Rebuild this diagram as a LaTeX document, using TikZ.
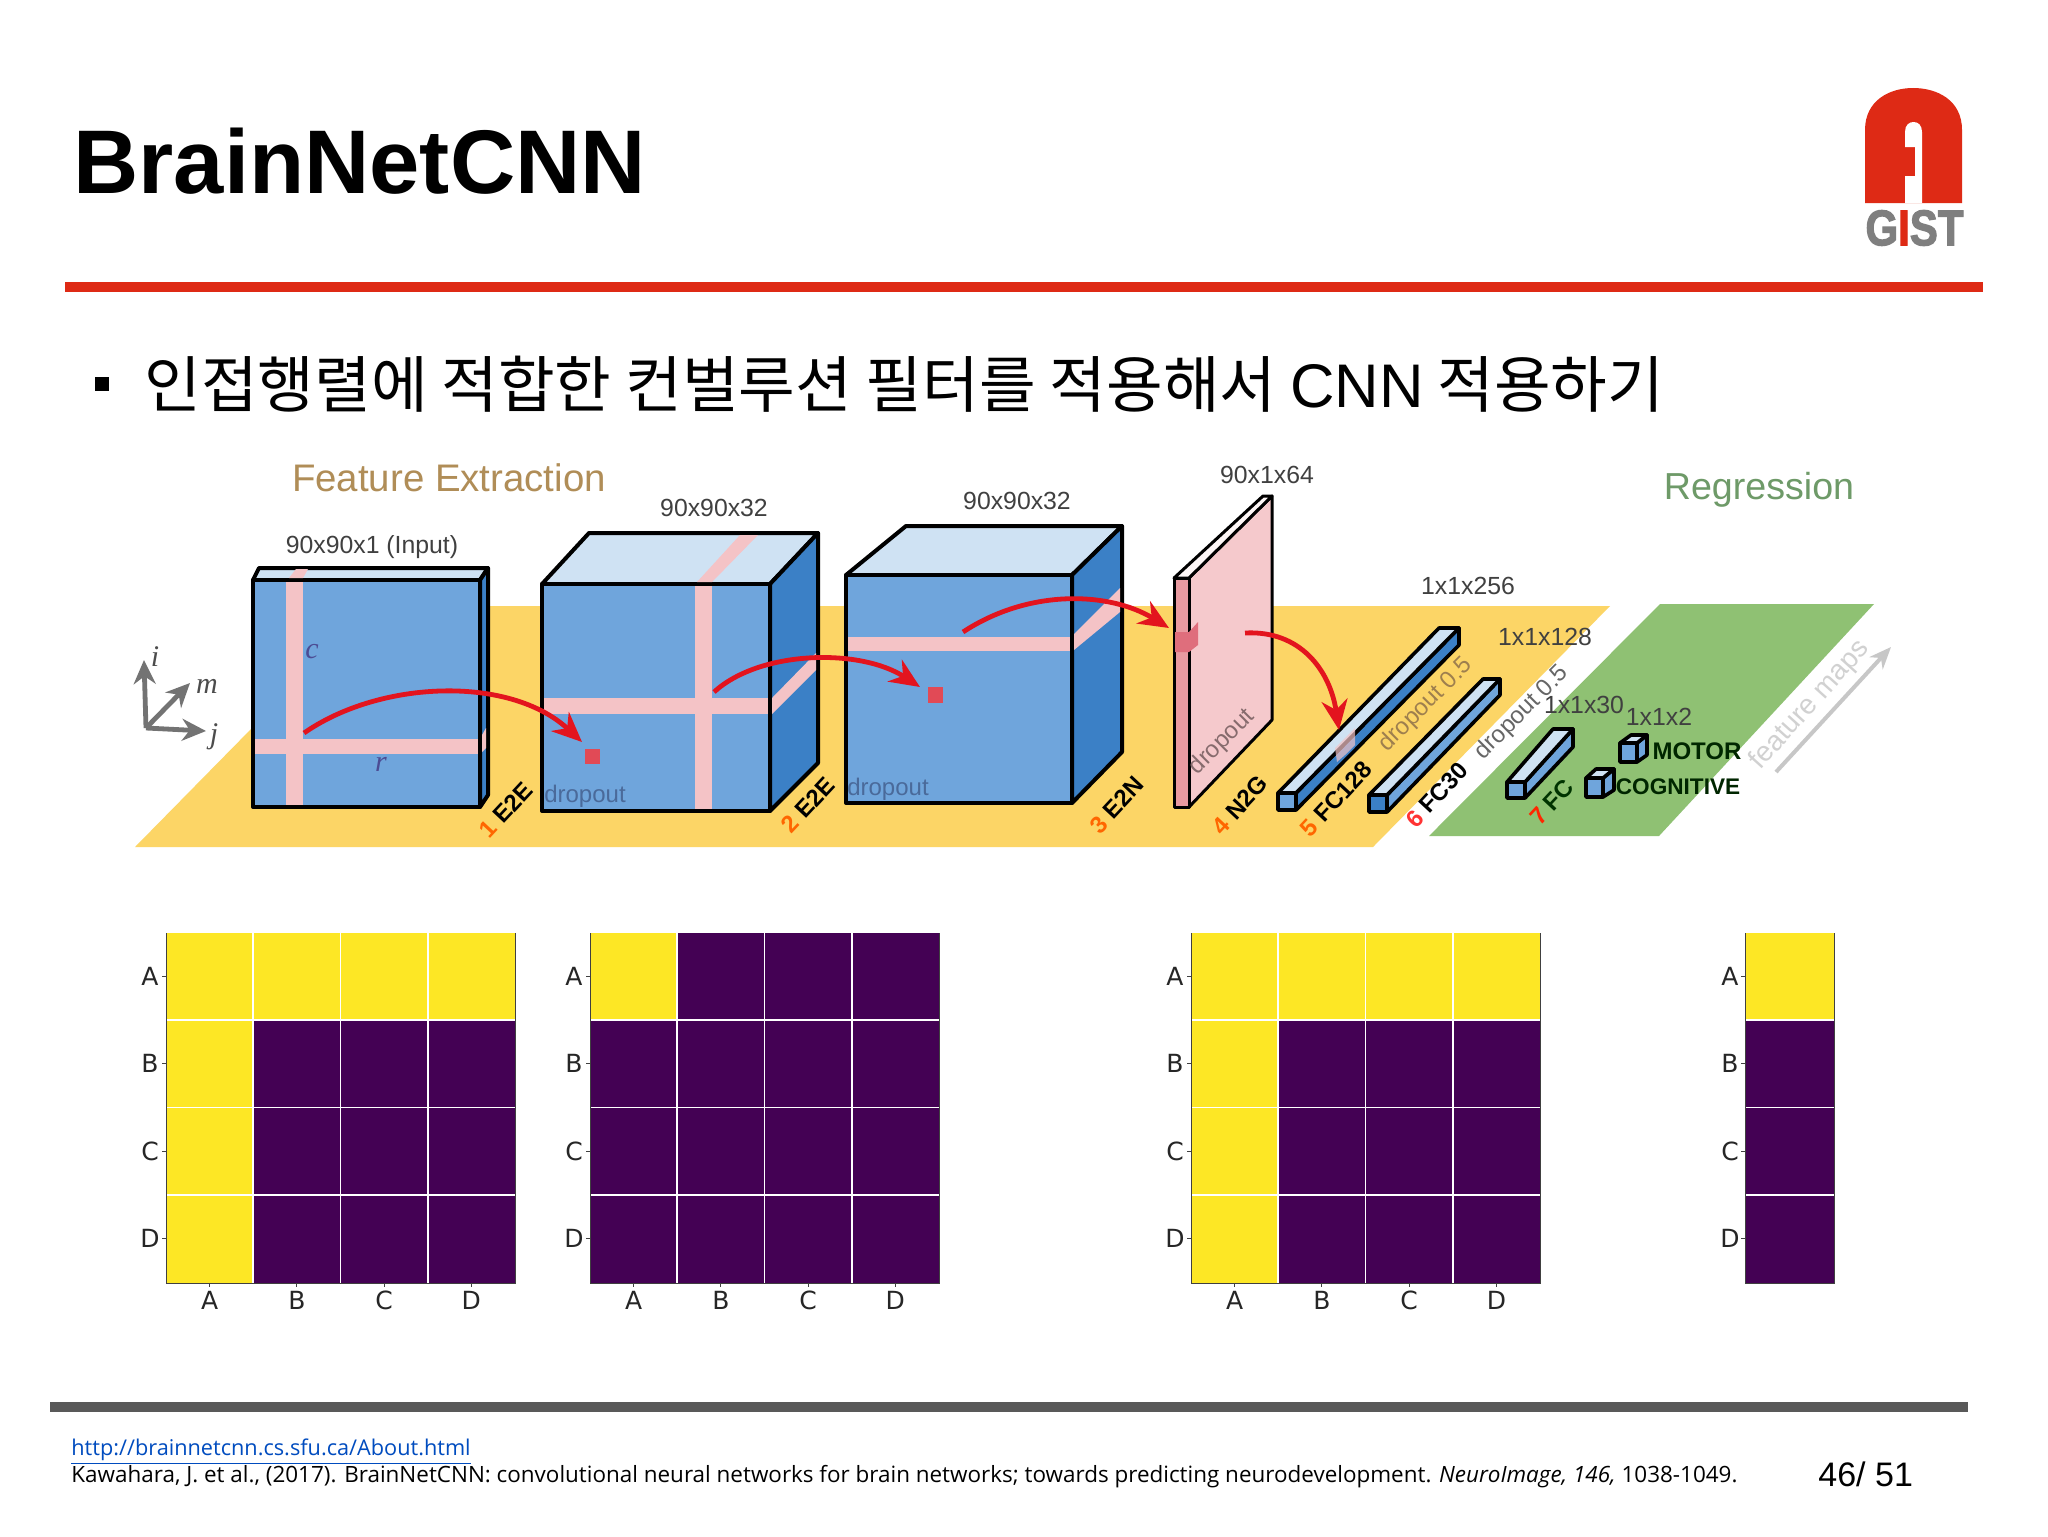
\documentclass[tikz,border=0pt]{standalone}
\usepackage{fontspec}
\setmainfont{Liberation Sans}
\newfontfamily\cjk{Noto Sans CJK KR}
\newfontfamily\notefont{Open Sans}
\newfontfamily\tickfont{DejaVu Sans}
\newfontfamily\axisfont{Liberation Serif}
\newfontfamily\gistfont[BoldFeatures={FakeBold=2.5}]{Liberation Sans}
\usetikzlibrary{arrows.meta,calc,positioning}
\definecolor{gistred}{HTML}{DE2A15}
\definecolor{gistgrey}{HTML}{7F7F7F}
\definecolor{barfront}{HTML}{6FA5DC}
\definecolor{barside}{HTML}{3B80C6}
\definecolor{bartop}{HTML}{CFE2F3}
\definecolor{stripe}{HTML}{F4C3C6}
\definecolor{platestrip}{HTML}{E89AA0}
\definecolor{platemark}{HTML}{DF6E7C}
\definecolor{plateyellow}{HTML}{FCD566}
\definecolor{plategreen}{HTML}{8FC173}
\definecolor{vyellow}{HTML}{FDE725}
\definecolor{vpurple}{HTML}{440154}
\definecolor{arrowred}{HTML}{E3141E}
\definecolor{droptext}{HTML}{4A6A9A}
\definecolor{extracttext}{HTML}{B08D57}
\definecolor{regresstext}{HTML}{6E9A68}
\tikzset{
  frontface/.style={fill=barfront,draw=black,line width=2pt,line join=round},
  sideface/.style={fill=barside,draw=black,line width=2pt,line join=round},
  topface/.style={fill=bartop,draw=black,line width=2pt,line join=round},
  dimlabel/.style={inner sep=0pt,text=black!75,font=\fontsize{12.4}{14}\selectfont},
  steplabel/.style={inner sep=0pt,rotate=47,font=\fontsize{12}{14}\selectfont\bfseries},
  droplabel/.style={inner sep=0pt,font=\fontsize{12}{14}\selectfont},
  axislabel/.style={inner sep=0pt,text=black!70,font=\fontsize{15}{16}\selectfont\axisfont\itshape},
  flowarrow/.style={arrowred,line width=2.4pt,-{Stealth[length=15pt,width=13pt]}},
  axisarrow/.style={black!55,line width=2.4pt,-{Stealth[length=12pt,width=11pt]}},
  ticklabel/.style={inner sep=0pt,text=black!85,font=\fontsize{12.5}{14}\selectfont\tickfont},
}
\begin{document}
\begin{tikzpicture}[x=0.5pt,y=-0.5pt]
  \useasboundingbox (0,0) rectangle (2048,1536);
  \fill[white] (0,0) rectangle (2048,1536);
  % header
  \node[anchor=base west,inner sep=0pt,font=\fontsize{45.2}{50}\selectfont\bfseries] (title) at (73,193) {BrainNetCNN};
  \fill[gistred] (65,282) rectangle (1983,292);
  \fill[gistred] (1865,203) -- (1865,130) .. controls (1865,100) and (1890,88) .. (1913,88)
    .. controls (1937,88) and (1962,100) .. (1962,130) -- (1962,203) -- cycle;
  \fill[white] (1905,203) -- (1905,176) -- (1915,176) -- (1915,147) -- (1905,147) -- (1905,132)
    .. controls (1905,125) and (1909,122) .. (1913.5,122)
    .. controls (1918,122) and (1922,125) .. (1922,132) -- (1922,203) -- cycle;
  \node[inner sep=0pt,text=gistgrey,font=\fontsize{25}{27}\selectfont\gistfont\bfseries] (gist) at (1914.5,228)
    {\scalebox{0.84}[1]{G\textcolor{gistred}{I}ST}};
  \fill[black] (95,377) rectangle (109,391);
  \node[anchor=west,inner sep=0pt,font=\fontsize{30.8}{36}\selectfont\cjk] (headline) at (144,384)
    {인접행렬에 적합한 컨벌루션 필터를 적용해서 {\rmfamily CNN} 적용하기};
  % planes
  \fill[plateyellow] (135,847) -- (372,606) -- (1610,606) -- (1373,847) -- cycle;
  \fill[plategreen] (1429,836) -- (1660,604) -- (1874,604) -- (1659,836) -- cycle;
  % axes
  \coordinate (origin) at (146,728);
  \coordinate (axisi) at (144,660);
  \coordinate (axism) at (190,683);
  \coordinate (axisj) at (206,731);
  \draw[axisarrow] (origin) -- (axisi);
  \draw[axisarrow] (origin) -- (axism);
  \draw[axisarrow] (origin) -- (axisj);
  \node[axislabel] (labeli) at (155,657) {i};
  \node[axislabel] (labelm) at (207,686) {m};
  \node[axislabel] (labelj) at (214,737) {j};
  % input
  \draw[topface] (253,580) -- (259,568) -- (488,568) -- (480,580) -- cycle;
  \draw[sideface] (480,580) -- (488,568) -- (488,795) -- (480,807) -- cycle;
  \draw[frontface] (253,580) rectangle (480,807);
  \fill[stripe] (286,582) rectangle (303,805);
  \fill[stripe] (255,739) rectangle (478,754);
  \fill[stripe] (289,578) -- (303,578) -- (308,569) -- (296,569) -- cycle;
  \fill[stripe] (482,735) -- (486,728) -- (486,748) -- (482,752) -- cycle;
  \node[axislabel,text=blue!40!black!70] (labelc) at (312,652) {c};
  \node[axislabel,text=blue!40!black!70] (labelr) at (381,764) {r};
  % second block
  \draw[topface] (542,584) -- (589,533) -- (818,533) -- (770,584) -- cycle;
  \draw[sideface] (770,584) -- (818,533) -- (818,763) -- (770,811) -- cycle;
  \draw[frontface] (542,584) rectangle (770,811);
  \fill[stripe] (695,586) rectangle (712,809);
  \fill[stripe] (544,698) rectangle (768,714);
  \fill[stripe] (697,582) -- (712,582) -- (758,535) -- (740,535) -- cycle;
  \fill[stripe] (772,698) -- (816,653) -- (816,670) -- (772,714) -- cycle;
  % third block
  \draw[topface] (846,575) -- (906,526) -- (1122,526) -- (1072,575) -- cycle;
  \draw[sideface] (1072,575) -- (1122,526) -- (1122,752) -- (1072,803) -- cycle;
  \draw[frontface] (846,575) rectangle (1072,803);
  \fill[stripe] (848,637) rectangle (1070,651);
  \fill[stripe] (1074,634) -- (1120,588) -- (1120,612) -- (1074,650) -- cycle;
  % plate
  \draw[black,line width=1.5pt,line join=round,fill=stripe!90!white] (1189,578) -- (1272,496) -- (1272,720) -- (1189,807) -- cycle;
  \draw[black,line width=1.5pt,line join=round,fill=white!85!stripe] (1174,578) -- (1263,496) -- (1272,496) -- (1189,578) -- cycle;
  \draw[black,line width=1.5pt,line join=round,fill=platestrip] (1174,578) rectangle (1189,807);
  \fill[platemark] (1175,632) -- (1189,632) -- (1198,622) -- (1198,645) -- (1189,652) -- (1175,652) -- cycle;
  % fc bars
  \draw[sideface,line width=1.8pt] (1296,793) -- (1459,628) -- (1459,645) -- (1296,810) -- cycle;
  \draw[topface,line width=1.8pt] (1278,793) -- (1439,628) -- (1459,628) -- (1296,793) -- cycle;
  \draw[frontface,line width=1.8pt] (1278,793) rectangle (1296,810);
  \draw[sideface,fill=barfront,line width=1.8pt] (1387,795) -- (1500,679) -- (1500,695) -- (1387,812) -- cycle;
  \draw[topface,line width=1.8pt] (1369,795) -- (1483,679) -- (1500,679) -- (1387,795) -- cycle;
  \draw[frontface,fill=barside,line width=1.8pt] (1369,795) rectangle (1387,812);
  \draw[sideface,fill=barfront,line width=1.8pt] (1525,782) -- (1573,729) -- (1573,747) -- (1525,798) -- cycle;
  \draw[topface,line width=1.8pt] (1507,782) -- (1553,729) -- (1573,729) -- (1525,782) -- cycle;
  \draw[frontface,line width=1.8pt] (1507,782) rectangle (1525,798);
  % outputs
  \draw[sideface,fill=barfront,line width=1.8pt] (1637,743) -- (1647,735) -- (1647,755) -- (1637,762) -- cycle;
  \draw[topface,line width=1.8pt] (1620,743) -- (1631,735) -- (1647,735) -- (1637,743) -- cycle;
  \draw[frontface,line width=1.8pt] (1620,743) rectangle (1637,762);
  \draw[sideface,fill=barfront,line width=1.8pt] (1603,778) -- (1614,769) -- (1614,790) -- (1603,797) -- cycle;
  \draw[topface,line width=1.8pt] (1586,778) -- (1596,769) -- (1614,769) -- (1603,778) -- cycle;
  \draw[frontface,line width=1.8pt] (1586,778) rectangle (1603,797);
  % red marks and arrows
  \fill[platemark!60!arrowred] (585,749) rectangle (600,764);
  \fill[platemark!60!arrowred] (928,687) rectangle (943,703);
  \fill[stripe,opacity=0.7] (1335,748) -- (1355,728) -- (1355,745) -- (1345,755) -- (1337,762) -- cycle;
  \coordinate (a1) at (304,733);
  \coordinate (b1) at (582,742);
  \coordinate (a2) at (714,692);
  \coordinate (b2) at (920,687);
  \coordinate (a3) at (963,632);
  \coordinate (b3) at (1169,628);
  \coordinate (a4) at (1245,633);
  \coordinate (b4) at (1339,730);
  \draw[flowarrow] (a1) .. controls (380,680) and (510,675) .. (b1);
  \draw[flowarrow] (a2) .. controls (760,650) and (860,648) .. (b2);
  \draw[flowarrow] (a3) .. controls (1030,588) and (1110,592) .. (b3);
  \draw[flowarrow] (a4) .. controls (1300,630) and (1330,670) .. (b4);
  % titles
  \node[inner sep=0pt,text=extracttext,font=\fontsize{19.2}{22}\selectfont] (feature) at (449,478) {Feature Extraction};
  \node[inner sep=0pt,text=regresstext,font=\fontsize{18.8}{22}\selectfont] (regression) at (1759,490) {Regression};
  % sizes
  \node[dimlabel] (size1) at (372,547) {90x90x1 (Input)};
  \node[dimlabel] (size2) at (714,508) {90x90x32};
  \node[dimlabel] (size3) at (1017,501) {90x90x32};
  \node[dimlabel] (size4) at (1267,475) {90x1x64};
  \node[dimlabel] (size5) at (1468,586) {1x1x256};
  \node[dimlabel] (size6) at (1545,637) {1x1x128};
  \node[dimlabel] (size7) at (1584,705) {1x1x30};
  \node[dimlabel] (size8) at (1659,717) {1x1x2};
  % layer names
  \node[steplabel] (layer1) at (506,810) {\textcolor{orange!80!red}{1} E2E};
  \node[steplabel] (layer2) at (808,805) {\textcolor{orange!80!red}{2} E2E};
  \node[steplabel] (layer3) at (1117,805) {\textcolor{orange!80!red}{3} E2N};
  \node[steplabel] (layer4) at (1240,805) {\textcolor{orange!80!red}{4} N2G};
  \node[steplabel] (layer5) at (1336,799) {\textcolor{orange!80!red}{5} FC128};
  \node[steplabel] (layer6) at (1437,795) {\textcolor{red!80!white}{6} FC30};
  \node[steplabel,text=black!80!green] (layer7) at (1552,802) {\textcolor{red!70!orange}{7} FC};
  \node[droplabel,text=droptext] (drop1) at (585,796) {dropout};
  \node[droplabel,text=droptext] (drop2) at (888,789) {dropout};
  \node[droplabel,rotate=45,text=black!45!stripe] (drop3) at (1222,742) {dropout};
  \node[droplabel,rotate=45,text=extracttext!90!black] (drop4) at (1426,705) {dropout 0.5};
  \node[droplabel,rotate=45,text=black!60] (drop5) at (1522,713) {dropout 0.5};
  \node[inner sep=0pt,text=black!85!green,font=\fontsize{12}{14}\selectfont\bfseries] (motor) at (1697,751) {MOTOR};
  \node[inner sep=0pt,text=black!85!green,font=\fontsize{11.3}{14}\selectfont\bfseries] (cognitive) at (1678,787) {COGNITIVE};
  \node[inner sep=0pt,rotate=48,text=black!18,font=\fontsize{14}{16}\selectfont] (maps) at (1810,705) {feature maps};
  \coordinate (mapsa) at (1776,772);
  \coordinate (mapsb) at (1891,647);
  \draw[black!22,line width=2pt,-{Stealth[length=11pt,width=9pt]}] (mapsa) -- (mapsb);
  % heat maps
  \foreach \ox in {166,590,1191} {
    \fill[vpurple] (\ox,933) rectangle ({\ox+349},1283);
    \fill[vyellow] (\ox,933) rectangle ({\ox+87.25},1020.25);
  }
  \foreach \ox in {166,1191} {
    \fill[vyellow] (\ox,933) rectangle ({\ox+349},1020);
    \fill[vyellow] (\ox,1020) rectangle ({\ox+87},1283);
  }
  \foreach \ox in {166,590,1191} {
    \foreach \i in {1,2,3} {
      \draw[white,line width=0.8pt] ({\ox+87.25*\i},933) -- ({\ox+87.25*\i},1283);
      \draw[white,line width=0.8pt] (\ox,{933+87.25*\i}) -- ({\ox+349},{933+87.25*\i});
    }
    \draw[black!75,line width=0.5pt] (\ox,933) -- (\ox,1283) -- ({\ox+349},1283) -- ({\ox+349},933);
    \foreach \lab [count=\i from 0] in {A,B,C,D} {
      \draw[black!75,line width=0.5pt] (\ox,{976.6+87.25*\i}) -- ({\ox-4},{976.6+87.25*\i});
      \draw[black!75,line width=0.5pt] ({\ox+43.6+87.25*\i},1283) -- ({\ox+43.6+87.25*\i},1287);
      \node[ticklabel] (row\ox\lab) at ({\ox-16},{976.6+87.25*\i}) {\lab};
      \node[ticklabel] (col\ox\lab) at ({\ox+43.6+87.25*\i},1300) {\lab};
    }
  }
  \fill[vpurple] (1745,933) rectangle (1834,1283);
  \fill[vyellow] (1745,933) rectangle (1834,1020);
  \foreach \i in {1,2,3} {
    \draw[white,line width=0.8pt] (1745,{933+87.25*\i}) -- (1834,{933+87.25*\i});
  }
  \draw[black!75,line width=0.5pt] (1745,933) -- (1745,1283) -- (1834,1283) -- (1834,933);
  \foreach \lab [count=\i from 0] in {A,B,C,D} {
    \draw[black!75,line width=0.5pt] (1745,{976.6+87.25*\i}) -- (1741,{976.6+87.25*\i});
    \node[ticklabel] (rowlast\lab) at (1730,{976.6+87.25*\i}) {\lab};
  }
  % footer
  \fill[black!65] (50,1402) rectangle (1968,1412);
  \node[anchor=west,inner sep=0pt,text=blue!60!cyan!75!black,font=\fontsize{10.85}{13}\selectfont\notefont] (link) at (71,1452)
    {\underline{http://brainnetcnn.cs.sfu.ca/About.html}};
  \node[anchor=west,inner sep=0pt,font=\fontsize{11.22}{13}\selectfont\notefont] (source) at (71,1477)
    {Kawahara, J. et al., (2017). BrainNetCNN: convolutional neural networks for brain networks; towards predicting neurodevelopment. \textit{NeuroImage, 146,} 1038-1049.};
  \node[anchor=west,inner sep=0pt,font=\fontsize{17}{18}\selectfont] (page) at (1818,1474) {46/ 51};
\end{tikzpicture}
\end{document}
